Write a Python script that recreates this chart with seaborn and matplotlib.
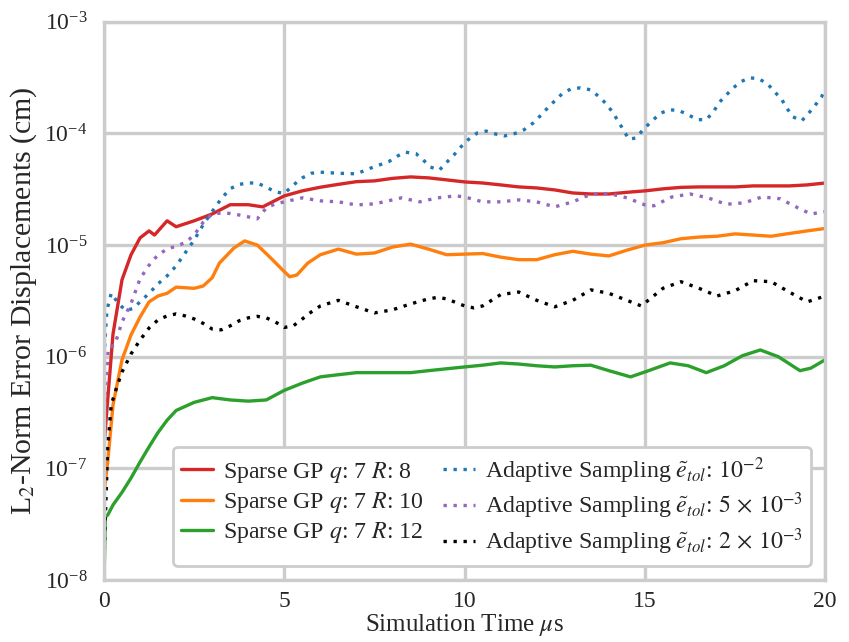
import seaborn as sns
import matplotlib.pyplot as plt

# Sparse GP q=7 curves (time in microseconds, L2 error in cm)
red_t = [0, 0.25, 0.5, 0.75, 1.0, 1.25, 1.4, 1.75, 2.0, 2.5, 3.0, 3.5, 4.0, 4.4, 5.0,
         5.5, 6.0, 6.5, 7.0, 7.5, 8.0, 8.5, 9.0, 9.5, 10.0, 10.5, 11.0, 11.5, 12.0, 12.5,
         13.0, 13.5, 14.0, 14.5, 15.0, 15.5, 16.0, 16.5, 17.0, 17.5, 18.0, 18.5, 19.0, 19.5, 20.0]
red_err = [1.6e-7, 1.6e-6, 4.9e-6, 8.2e-6, 1.16e-5, 1.34e-5, 1.23e-5, 1.65e-5, 1.46e-5, 1.65e-5,
           1.9e-5, 2.3e-5, 2.3e-5, 2.2e-5, 2.76e-5, 3.06e-5, 3.3e-5, 3.5e-5, 3.7e-5, 3.76e-5,
           3.96e-5, 4.08e-5, 4.0e-5, 3.84e-5, 3.68e-5, 3.6e-5, 3.46e-5, 3.32e-5, 3.25e-5, 3.12e-5,
           2.93e-5, 2.87e-5, 2.87e-5, 2.97e-5, 3.06e-5, 3.19e-5, 3.29e-5, 3.32e-5, 3.32e-5, 3.32e-5,
           3.39e-5, 3.39e-5, 3.39e-5, 3.46e-5, 3.6e-5]

orange_t = [0, 0.1, 0.25, 0.5, 0.75, 1.0, 1.25, 1.5, 1.75, 2.0, 2.5, 2.75, 3.0, 3.2, 3.6, 3.9,
            4.25, 4.6, 4.95, 5.15, 5.35, 5.65, 6.0, 6.5, 7.0, 7.5, 8.0, 8.5, 9.0, 9.5, 10.0,
            10.5, 11.0, 11.5, 12.0, 12.5, 13.0, 13.5, 14.0, 14.5, 15.0, 15.5, 16.0, 16.5, 17.0,
            17.5, 18.0, 18.5, 19.0, 19.5, 20.0]
orange_err = [6e-8, 1.12e-7, 3.7e-7, 9.4e-7, 1.57e-6, 2.27e-6, 3.1e-6, 3.5e-6, 3.7e-6, 4.2e-6,
              4.1e-6, 4.3e-6, 5.1e-6, 6.9e-6, 9.4e-6, 1.09e-5, 1.0e-5, 7.8e-6, 6.0e-6, 5.2e-6,
              5.4e-6, 6.9e-6, 8.2e-6, 9.2e-6, 8.3e-6, 8.5e-6, 9.6e-6, 1.02e-5, 9.2e-6, 8.2e-6,
              8.3e-6, 8.4e-6, 7.8e-6, 7.4e-6, 7.4e-6, 8.2e-6, 8.8e-6, 8.3e-6, 8.0e-6, 9.0e-6,
              1.0e-5, 1.05e-5, 1.14e-5, 1.18e-5, 1.2e-5, 1.26e-5, 1.23e-5, 1.2e-5, 1.27e-5,
              1.34e-5, 1.41e-5]

green_t = [0, 0.04, 0.1, 0.25, 0.5, 0.75, 1.0, 1.25, 1.5, 1.75, 2.0, 2.5, 3.0, 3.5, 4.0, 4.5,
           5.0, 5.5, 6.0, 6.5, 7.0, 7.5, 8.0, 8.5, 9.0, 9.5, 10.0, 10.5, 11.0, 11.5, 12.0, 12.5,
           13.0, 13.5, 14.0, 14.6, 15.0, 15.7, 16.2, 16.7, 17.2, 17.7, 18.2, 18.7, 19.3, 19.6, 20.0]
green_err = [1.0e-8, 3.7e-8, 3.8e-8, 4.7e-8, 6.1e-8, 8.2e-8, 1.14e-7, 1.56e-7, 2.1e-7, 2.7e-7,
             3.3e-7, 3.9e-7, 4.3e-7, 4.1e-7, 4.0e-7, 4.1e-7, 5.0e-7, 5.8e-7, 6.6e-7, 6.9e-7,
             7.2e-7, 7.2e-7, 7.2e-7, 7.2e-7, 7.5e-7, 7.8e-7, 8.1e-7, 8.4e-7, 8.8e-7, 8.6e-7,
             8.3e-7, 8.1e-7, 8.3e-7, 8.4e-7, 7.5e-7, 6.6e-7, 7.3e-7, 8.8e-7, 8.3e-7, 7.2e-7,
             8.3e-7, 1.02e-6, 1.15e-6, 1.0e-6, 7.5e-7, 7.9e-7, 9.4e-7]

# Adaptive sampling curves
blue_t = [0, 0.08, 0.2, 0.4, 0.6, 0.8, 1.0, 1.25, 1.5, 1.75, 2.0, 2.25, 2.5, 2.75, 3.0,
          3.25, 3.5, 3.75, 4.0, 4.25, 4.5, 4.75, 5.0, 5.25, 5.5, 5.75, 6.0, 6.5, 7.0, 7.4,
          7.9, 8.15, 8.35, 8.65, 8.85, 9.05, 9.3, 9.5, 9.7, 9.9, 10.1, 10.35, 10.6, 10.85,
          11.1, 11.4, 11.65, 11.9, 12.1, 12.3, 12.5, 12.7, 12.95, 13.2, 13.5, 13.7, 13.9,
          14.1, 14.25, 14.4, 14.55, 14.75, 14.95, 15.2, 15.45, 15.7, 15.95, 16.2, 16.45,
          16.7, 16.9, 17.05, 17.25, 17.45, 17.65, 17.9, 18.15, 18.4, 18.6, 18.8, 18.95,
          19.1, 19.35, 19.55, 19.75, 19.9, 20.0]
blue_err = [1.0e-6, 2.6e-6, 3.7e-6, 3.0e-6, 2.6e-6, 2.7e-6, 3.1e-6, 3.7e-6, 4.5e-6, 5.3e-6,
            6.5e-6, 8.5e-6, 1.11e-5, 1.52e-5, 2.0e-5, 2.6e-5, 3.2e-5, 3.5e-5, 3.6e-5, 3.6e-5,
            3.3e-5, 3.0e-5, 2.9e-5, 3.45e-5, 4.0e-5, 4.4e-5, 4.5e-5, 4.4e-5, 4.35e-5, 4.9e-5,
            5.6e-5, 6.3e-5, 6.8e-5, 6.6e-5, 5.8e-5, 5.0e-5, 4.7e-5, 5.5e-5, 6.4e-5, 7.6e-5,
            8.8e-5, 1.01e-4, 1.05e-4, 9.9e-5, 9.5e-5, 1.0e-4, 1.08e-4, 1.24e-4, 1.44e-4, 1.69e-4,
            1.96e-4, 2.26e-4, 2.51e-4, 2.56e-4, 2.46e-4, 2.17e-4, 1.88e-4, 1.56e-4, 1.3e-4, 1.08e-4,
            8.9e-5, 9.1e-5, 1.08e-4, 1.3e-4, 1.53e-4, 1.63e-4, 1.6e-4, 1.47e-4, 1.33e-4, 1.33e-4,
            1.56e-4, 1.88e-4, 2.2e-4, 2.56e-4, 2.9e-4, 3.15e-4, 3.1e-4, 2.78e-4, 2.36e-4, 2.0e-4,
            1.66e-4, 1.41e-4, 1.3e-4, 1.53e-4, 1.84e-4, 2.13e-4, 2.51e-4]

purple_t = [0, 0.12, 0.3, 0.5, 0.75, 1.0, 1.25, 1.5, 1.75, 2.0, 2.25, 2.5, 2.75, 3.0, 3.25,
            3.5, 3.75, 4.0, 4.25, 4.5, 4.75, 5.0, 5.5, 6.0, 6.5, 7.0, 7.5, 8.0, 8.25, 8.75,
            9.25, 9.75, 10.0, 10.5, 11.0, 11.5, 12.0, 12.5, 13.0, 13.5, 14.0, 14.5, 15.0, 15.25,
            15.75, 16.25, 16.75, 17.25, 17.75, 18.25, 18.75, 19.25, 19.6, 20.0]
purple_err = [3e-7, 1.2e-6, 1.28e-6, 2.05e-6, 3.0e-6, 5.0e-6, 6.6e-6, 8.2e-6, 9.2e-6, 9.8e-6,
              1.05e-5, 1.23e-5, 1.6e-5, 1.9e-5, 1.94e-5, 1.92e-5, 1.86e-5, 1.79e-5, 1.72e-5, 2.15e-5,
              2.34e-5, 2.44e-5, 2.65e-5, 2.49e-5, 2.44e-5, 2.29e-5, 2.34e-5, 2.54e-5, 2.65e-5, 2.44e-5,
              2.65e-5, 2.76e-5, 2.7e-5, 2.44e-5, 2.44e-5, 2.54e-5, 2.44e-5, 2.2e-5, 2.44e-5, 2.85e-5,
              2.9e-5, 2.65e-5, 2.29e-5, 2.25e-5, 2.7e-5, 2.87e-5, 2.65e-5, 2.32e-5, 2.39e-5, 2.7e-5,
              2.6e-5, 2.15e-5, 1.9e-5, 1.99e-5]

black_t = [0, 0.1, 0.2, 0.35, 0.5, 0.75, 1.0, 1.25, 1.5, 1.75, 2.0, 2.25, 2.5, 2.75, 3.0, 3.25,
           3.5, 3.75, 4.0, 4.25, 4.5, 4.75, 5.0, 5.25, 5.5, 5.75, 6.0, 6.5, 7.0, 7.5, 8.0, 8.5,
           9.0, 9.25, 9.5, 10.0, 10.25, 10.5, 11.0, 11.5, 12.0, 12.5, 13.0, 13.5, 14.0, 14.5,
           14.9, 15.5, 16.0, 16.5, 17.0, 17.5, 18.0, 18.5, 19.0, 19.5, 20.0]
black_err = [1.5e-8, 1.5e-7, 3.7e-7, 5.3e-7, 7.3e-7, 1.06e-6, 1.41e-6, 1.81e-6, 2.14e-6, 2.32e-6,
             2.42e-6, 2.32e-6, 2.18e-6, 1.99e-6, 1.77e-6, 1.74e-6, 1.89e-6, 2.1e-6, 2.23e-6, 2.3e-6,
             2.23e-6, 2.05e-6, 1.83e-6, 1.89e-6, 2.18e-6, 2.52e-6, 2.85e-6, 3.2e-6, 2.8e-6, 2.47e-6,
             2.63e-6, 2.97e-6, 3.3e-6, 3.4e-6, 3.3e-6, 2.85e-6, 2.74e-6, 2.85e-6, 3.6e-6, 3.8e-6,
             3.2e-6, 2.8e-6, 3.2e-6, 3.97e-6, 3.7e-6, 3.2e-6, 2.85e-6, 4.1e-6, 4.7e-6, 4.1e-6,
             3.5e-6, 3.9e-6, 4.8e-6, 4.7e-6, 3.8e-6, 3.1e-6, 3.5e-6]

sns.set_theme(style="whitegrid", rc={
    "axes.edgecolor": ".8", "axes.linewidth": 2.4,
    "grid.color": ".8", "grid.linewidth": 2.4,
})
plt.rcParams["font.family"] = "serif"
plt.rcParams["font.serif"] = ["Liberation Serif", "DejaVu Serif"]
plt.rcParams["mathtext.fontset"] = "stix"

fig, ax = plt.subplots(figsize=(8.49, 6.42), dpi=100)
fig.subplots_adjust(left=0.1225, right=0.972, top=0.966, bottom=0.0966)

lw = 2.4
dots = (0, (1, 2))
sns.lineplot(x=red_t, y=red_err, ax=ax, color="#d62728", lw=lw,
             label=r"Sparse GP $q$: 7 $R$: 8")
sns.lineplot(x=orange_t, y=orange_err, ax=ax, color="#ff7f0e", lw=lw,
             label=r"Sparse GP $q$: 7 $R$: 10")
sns.lineplot(x=green_t, y=green_err, ax=ax, color="#2ca02c", lw=lw,
             label=r"Sparse GP $q$: 7 $R$: 12")
sns.lineplot(x=blue_t, y=blue_err, ax=ax, color="#1f77b4", lw=lw, linestyle=dots,
             label=r"Adaptive Sampling $\tilde{e}_{tol}$: $10^{-2}$")
sns.lineplot(x=purple_t, y=purple_err, ax=ax, color="#9467bd", lw=lw, linestyle=dots,
             label=r"Adaptive Sampling $\tilde{e}_{tol}$: $5\,\times\,10^{-3}$")
sns.lineplot(x=black_t, y=black_err, ax=ax, color="black", lw=lw, linestyle=dots,
             label=r"Adaptive Sampling $\tilde{e}_{tol}$: $2\,\times\,10^{-3}$")

ax.set_yscale("log")
ax.set_xlim(0, 20)
ax.set_ylim(1e-8, 1e-3)
ax.set_xticks([0, 5, 10, 15, 20])
ax.minorticks_off()
ax.tick_params(axis="y", labelsize=17, pad=6)
ax.tick_params(axis="x", labelsize=17, pad=2)
ax.set_xlabel(r"Simulation Time $\mu$s", fontsize=18, labelpad=0)
ax.set_ylabel(r"L$_2$-Norm Error Displacements (cm)", fontsize=21.5, labelpad=4)

leg = ax.legend(loc="lower right", ncol=2, fontsize=17.2, handlelength=1.35,
                handletextpad=0.4, columnspacing=0.8, frameon=True, framealpha=1.0,
                borderaxespad=0.6, labelspacing=0.22, borderpad=0.35)
leg.get_frame().set_edgecolor(".8")
leg.get_frame().set_linewidth(2)

fig.savefig("out.png", dpi=100)
